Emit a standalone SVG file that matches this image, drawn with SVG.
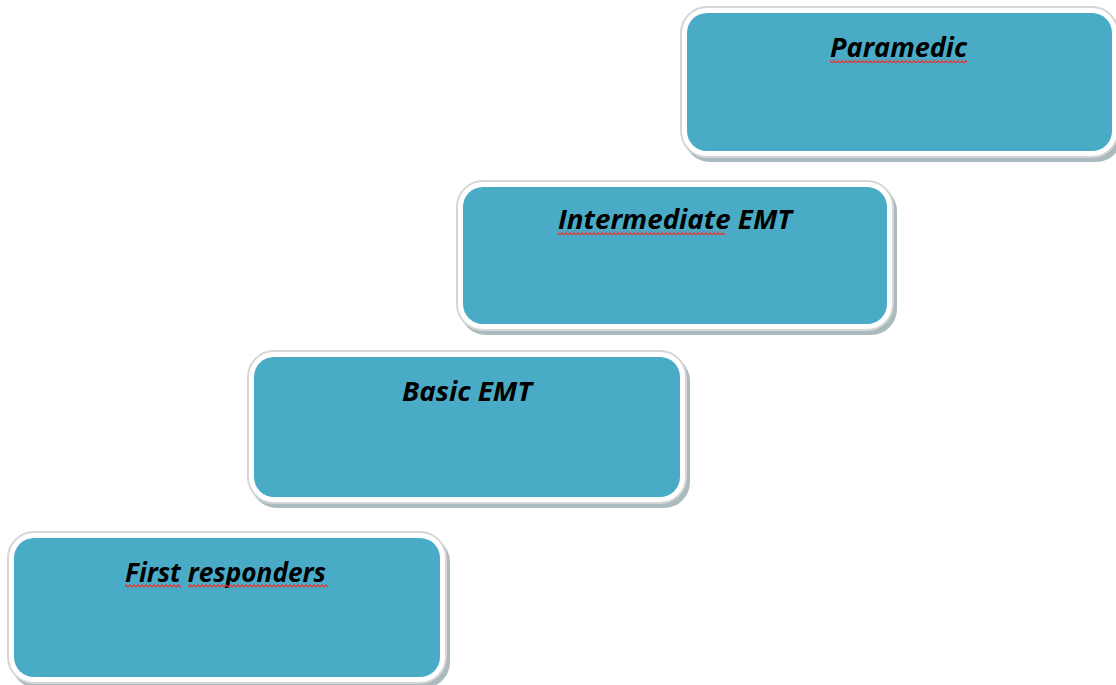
<svg xmlns="http://www.w3.org/2000/svg" width="1116" height="685" viewBox="0 0 1116 685">
<defs>
<style>
.shadow{fill:#8fa3a8;opacity:0.75}
.frame{fill:#ffffff;stroke:#d6d6d6;stroke-width:2}
.body{fill:#4aabc6}
.label{font-family:"Open Sans","Liberation Sans",sans-serif;font-weight:bold;font-style:italic;font-size:26px;fill:#000000;text-anchor:start}
.squig{fill:url(#squig)}
</style>
<pattern id="squig" x="0" y="0" width="4" height="4" patternUnits="userSpaceOnUse">
<polyline points="0,3.2 2,0.8 4,3.2" fill="none" stroke="#e8312f" stroke-width="1.2"/>
</pattern>
</defs>
<rect width="1116" height="685" fill="#ffffff"/>
<g id="connectors"></g>
<g id="node-paramedic">
<rect class="shadow" x="684" y="11" width="438" height="151" rx="26"/>
<rect class="frame" x="681" y="7" width="437" height="150" rx="26"/>
<rect class="body" x="687" y="13" width="425" height="138" rx="20"/>
<text class="label" x="830" y="57" textLength="137" lengthAdjust="spacingAndGlyphs">Paramedic</text>
<rect class="squig" x="830" y="59" width="137" height="4"/>
</g>
<g id="node-intermediate">
<rect class="shadow" x="460" y="185" width="437" height="150" rx="26"/>
<rect class="frame" x="457" y="181" width="436" height="149" rx="26"/>
<rect class="body" x="463" y="187" width="424" height="137" rx="20"/>
<text class="label" x="558" y="229" textLength="234" lengthAdjust="spacingAndGlyphs">Intermediate EMT</text>
<rect class="squig" x="558" y="231" width="167" height="4"/>
</g>
<g id="node-basic">
<rect class="shadow" x="251" y="355" width="439" height="153" rx="26"/>
<rect class="frame" x="248" y="351" width="438" height="152" rx="26"/>
<rect class="body" x="254" y="357" width="426" height="140" rx="20"/>
<text class="label" x="402" y="401" textLength="130" lengthAdjust="spacingAndGlyphs">Basic EMT</text>
</g>
<g id="node-first">
<rect class="shadow" x="11" y="536" width="439" height="152" rx="26"/>
<rect class="frame" x="8" y="532" width="438" height="151" rx="26"/>
<rect class="body" x="14" y="538" width="426" height="139" rx="20"/>
<text class="label" x="125" y="582" textLength="201" lengthAdjust="spacingAndGlyphs">First responders</text>
<rect class="squig" x="125" y="584" width="56" height="4"/>
<rect class="squig" x="188" y="584" width="140" height="4"/>
</g>
</svg>
